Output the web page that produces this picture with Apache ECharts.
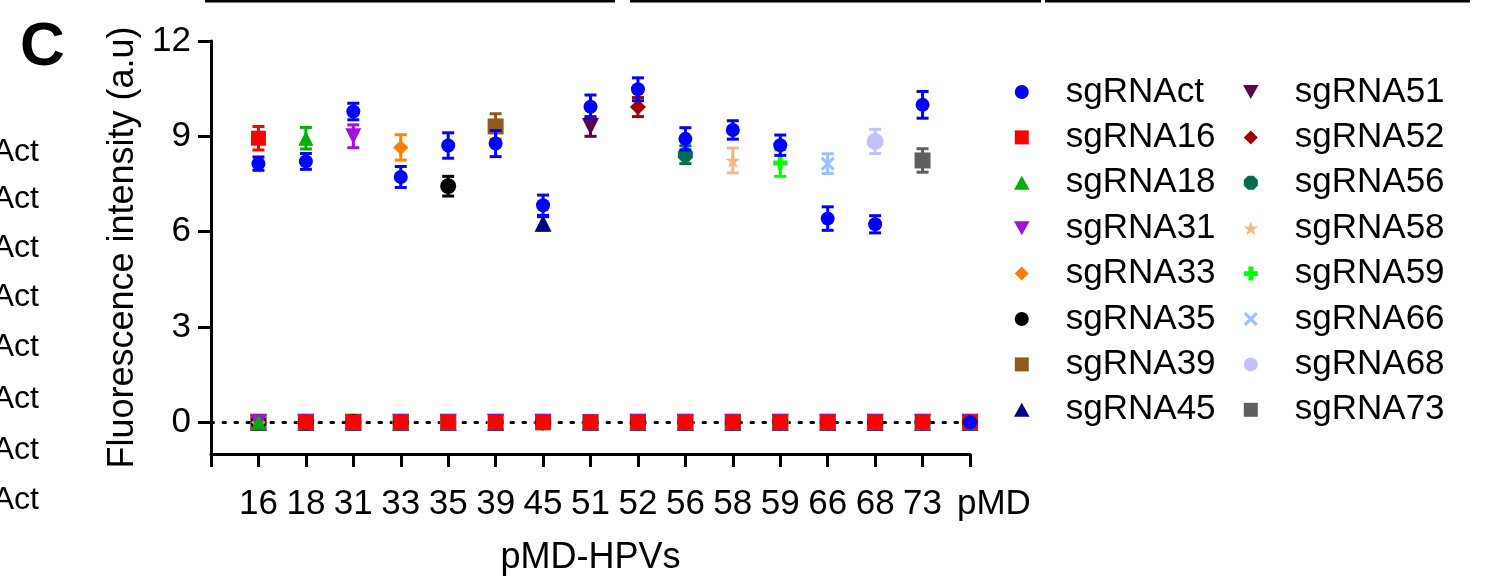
<!DOCTYPE html>
<html>
<head>
<meta charset="utf-8">
<script src="https://cdn.jsdelivr.net/npm/echarts@6/dist/echarts.min.js"></script>
<style>
  html, body { margin: 0; padding: 0; background: #fff; }
  #chart { width: 1491px; height: 581px; }
</style>
</head>
<body>
<div id="chart"></div>
<script>
const xLabels = ['16', '18', '31', '33', '35', '39', '45', '51', '52', '56', '58', '59', '66', '68', '73', 'pMD'];
const seriesNames = ['sgRNAct', 'sgRNA16', 'sgRNA18', 'sgRNA31', 'sgRNA33', 'sgRNA35', 'sgRNA39', 'sgRNA45',
                     'sgRNA51', 'sgRNA52', 'sgRNA56', 'sgRNA58', 'sgRNA59', 'sgRNA66', 'sgRNA68', 'sgRNA73'];

// control sgRNA at every plasmid (mean, SEM)
const actMeans = [8.14, 8.21, 9.78, 7.72, 8.71, 8.77, 6.83, 9.93, 10.48, 8.92, 9.20, 8.72, 6.41, 6.23, 9.99, 0];
const actSem   = [0.21, 0.25, 0.26, 0.33, 0.40, 0.41, 0.32, 0.37, 0.36, 0.35, 0.29, 0.32, 0.37, 0.27, 0.42, 0];

// each type-specific sgRNA on its own plasmid (mean, SEM); it reads 0 on all the others
const specificMeans = [8.94, 8.94, 9.00, 8.65, 7.43, 9.31, 6.26, 9.31, 9.92, 8.42, 8.24, 8.16, 8.14, 8.84, 8.24];
const specificSem   = [0.37, 0.34, 0.36, 0.40, 0.31, 0.40, 0.21, 0.31, 0.30, 0.28, 0.39, 0.42, 0.31, 0.38, 0.37];
const otherLevel = 0;

const yTicks = [0, 3, 6, 9, 12];

const colors = ['#0000ff', '#ff0000', '#00b000', '#a30fdb', '#ff8000', '#000000', '#8f5c1f', '#000080',
                '#5c0050', '#a00000', '#006e4e', '#f2b880', '#00ff00', '#99c2ff', '#c2c2ff', '#5f5f5f'];
const square = 'path://M0,0H10V10H0Z';
const tri = 'path://M5,0L10,9L0,9Z';
const invTri = 'path://M0,0L10,0L5,9Z';
const diamond = 'path://M5,0L10,5L5,10L0,5Z';
const octa = 'path://M3,0L7,0L10,3L10,7L7,10L3,10L0,7L0,3Z';
const star = 'path://M5,0L6.2,3.6L10,3.6L6.9,5.9L8.1,9.5L5,7.3L1.9,9.5L3.1,5.9L0,3.6L3.8,3.6Z';
const plus = 'path://M3.3,0H6.7V3.3H10V6.7H6.7V10H3.3V6.7H0V3.3H3.3Z';
const cross = 'path://M1.6,0L5,3.4L8.4,0L10,1.6L6.6,5L10,8.4L8.4,10L5,6.6L1.6,10L0,8.4L3.4,5L0,1.6Z';
const symbols = ['circle', square, tri, invTri, diamond, 'circle', square, tri,
                 invTri, diamond, octa, star, plus, cross, 'circle', square];
const sizes = [14, 15, 15, 16, 15, 16, 16, 17, 17, 16, 15, 15, 14, 14, 17, 16];

const font = '"Liberation Sans", Arial, sans-serif';

function pointsFor(k) {
  if (k === 0) return actMeans.map((m, i) => [i + 1, m, actSem[i]]);
  return xLabels.map((_, i) => i === k - 1
    ? [i + 1, specificMeans[k - 1], specificSem[k - 1]]
    : [i + 1, otherLevel, 0]);
}

function errorBars(k, pts) {
  const color = colors[k];
  return {
    type: 'custom',
    name: seriesNames[k] + ' SEM',
    z: 3 + (15 - k) * 2,
    silent: true,
    data: pts.filter(p => p[2] > 0),
    renderItem: (params, api) => {
      const x = api.value(0), m = api.value(1), e = api.value(2);
      const hi = api.coord([x, m + e]);
      const lo = api.coord([x, m - e]);
      const w = 6;
      const st = { stroke: color, lineWidth: 3 };
      return {
        type: 'group',
        children: [
          { type: 'line', shape: { x1: hi[0], y1: hi[1], x2: lo[0], y2: lo[1] }, style: st },
          { type: 'line', shape: { x1: hi[0] - w, y1: hi[1], x2: hi[0] + w, y2: hi[1] }, style: st },
          { type: 'line', shape: { x1: lo[0] - w, y1: lo[1], x2: lo[0] + w, y2: lo[1] }, style: st }
        ]
      };
    }
  };
}

const series = [{
  type: 'scatter',
  name: 'zero line',
  data: [],
  z: 1,
  markLine: {
    silent: true,
    symbol: 'none',
    label: { show: false },
    lineStyle: { color: '#000', width: 3, type: [2.5, 9.5], cap: 'round' },
    data: [[{ coord: [0, 0] }, { coord: [16, 0] }]]
  }
}];
for (let k = seriesNames.length - 1; k >= 0; k--) {
  const pts = pointsFor(k);
  series.push(errorBars(k, pts));
  series.push({
    type: 'scatter',
    name: seriesNames[k],
    z: 4 + (15 - k) * 2,
    symbol: symbols[k],
    symbolSize: sizes[k],
    itemStyle: { color: colors[k], opacity: 1 },
    data: pts.map(p => [p[0], p[1]])
  });
}

const legendBase = {
  orient: 'vertical',
  top: 68,
  itemWidth: 78,
  itemHeight: 14,
  itemGap: 7.4,
  selectedMode: false,
  symbolKeepAspect: true,
  textStyle: { fontSize: 35, lineHeight: 38, color: '#000', fontFamily: font }
};

const chart = echarts.init(document.getElementById('chart'));
chart.setOption({
  backgroundColor: '#fff',
  animation: false,
  textStyle: { fontFamily: font },
  grid: { left: 211, right: 521, top: 41, bottom: 126 },
  xAxis: {
    type: 'value',
    min: 0,
    max: 16,
    interval: 1,
    name: 'pMD-HPVs',
    nameLocation: 'middle',
    nameGap: 86,
    nameTextStyle: { fontSize: 36, color: '#000', fontFamily: font },
    axisLine: { onZero: false, lineStyle: { color: '#000', width: 3 } },
    axisTick: { length: 13, lineStyle: { color: '#000', width: 3 } },
    axisLabel: {
      fontSize: 35, color: '#000', margin: 33, fontFamily: font,
      showMaxLabel: true, hideOverlap: false,
      formatter: v => v === 16 ? '{p|' + xLabels[v - 1] + '}' : (xLabels[v - 1] || ''),
      rich: { p: { width: 26, align: 'left', fontSize: 35, color: '#000', fontFamily: font } }
    },
    splitLine: { show: false }
  },
  yAxis: {
    type: 'value',
    min: -1,
    max: 12,
    name: 'Fluorescence intensity (a.u)',
    nameLocation: 'middle',
    nameRotate: 90,
    nameGap: 60,
    nameTextStyle: { fontSize: 36, color: '#000', fontFamily: font },
    axisLine: { show: true, onZero: false, lineStyle: { color: '#000', width: 3 } },
    axisTick: { show: true, length: 13, customValues: yTicks, lineStyle: { color: '#000', width: 3 } },
    axisLabel: { fontSize: 35, color: '#000', margin: 20, customValues: yTicks, fontFamily: font },
    splitLine: { show: false }
  },
  legend: [
    Object.assign({ left: 1009, data: seriesNames.slice(0, 8).map((n, i) => ({ name: n, icon: symbols[i] })) }, legendBase),
    Object.assign({ left: 1238, data: seriesNames.slice(8).map((n, i) => ({ name: n, icon: symbols[i + 8] })) }, legendBase)
  ],
  graphic: [
    { type: 'text', x: 20, y: 17, style: { text: 'C', font: 'bold 62px ' + font, fill: '#000' } },
    ...[152, 199, 248, 297, 347, 399, 450, 500].map(y => ({
      type: 'text', x: 39, y: y,
      style: { text: 'sgRNAct', font: '32px ' + font, fill: '#000', align: 'right', verticalAlign: 'middle' }
    })),
    ...[[205, 615], [630, 1041], [1045, 1470]].map(s => ({
      type: 'line', shape: { x1: s[0], y1: 1, x2: s[1], y2: 1 }, style: { stroke: '#000', lineWidth: 3 }
    }))
  ],
  series: series
});

window.addEventListener('resize', () => chart.resize());
</script>
</body>
</html>
